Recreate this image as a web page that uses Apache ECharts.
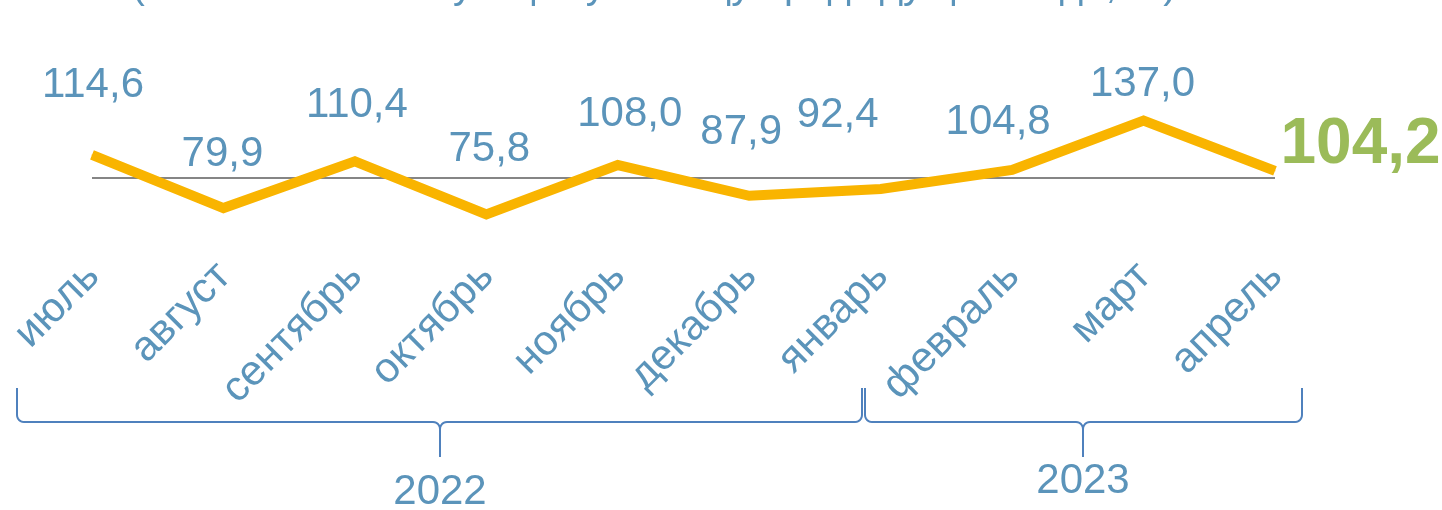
<!DOCTYPE html>
<html>
<head>
<meta charset="utf-8">
<script src="https://cdn.jsdelivr.net/npm/echarts@6/dist/echarts.min.js"></script>
<style>
  html, body { margin: 0; padding: 0; background: #fff; }
  #main { width: 1442px; height: 510px; }
</style>
</head>
<body>
<div id="main"></div>
<script>
// данные
var months = ['июль', 'август', 'сентябрь', 'октябрь', 'ноябрь', 'декабрь', 'январь', 'февраль', 'март', 'апрель'];
var values = [114.6, 79.9, 110.4, 75.8, 108.0, 87.9, 92.4, 104.8, 137.0, 104.2];
var years = ['2022', '2023'];
var titleText = '(в % к соответствующему месяцу предыдущего года, %)';

// сдвиги подписей значений (оформление)
var labelShift = [[1, -48], [-1, -32], [2, -34], [3, -43], [12, -29], [-8, -42], [-43, -52], [-14, -26], [-1, -15]];

var blue = '#5b94ba';
var font = 'Liberation Sans, Arial, sans-serif';

function fmt(v) {
    return v.toFixed(1).replace('.', ',');
}

// фигурная скобка снизу
function brace(x1, x2, xm, yTop, yH, yTip) {
    var r = 7, pts = [[x1, yTop]];
    function arc(cx, cy, a0, a1) {
        for (var i = 0; i <= 6; i++) {
            var a = (a0 + (a1 - a0) * i / 6) * Math.PI / 180;
            pts.push([cx + r * Math.cos(a), cy + r * Math.sin(a)]);
        }
    }
    arc(x1 + r, yH - r, 180, 90);
    arc(xm - r, yH + r, -90, 0);
    pts.push([xm, yTip]);
    arc(xm + r, yH + r, 180, 270);
    arc(x2 - r, yH - r, 90, 0);
    pts.push([x2, yTop]);
    return {
        type: 'polyline',
        shape: { points: pts },
        style: { stroke: '#4f81bd', lineWidth: 2, fill: null }
    };
}

var chart = echarts.init(document.getElementById('main'));

var seriesData = values.map(function (v, i) {
    var item = { value: v };
    if (i < values.length - 1) {
        item.label = { offset: labelShift[i] };
    } else {
        item.label = {
            position: 'right',
            distance: 5,
            offset: [0, -26],
            fontSize: 64,
            fontWeight: 'bold',
            color: '#9bbb59'
        };
    }
    return item;
});

var option = {
    animation: false,
    grid: [
        { left: 92, right: 167, top: 100.8, bottom: 256.2 },
        { left: 93, right: 166, top: 100.8, bottom: 256.2 }
    ],
    xAxis: [{
        type: 'category',
        data: months,
        boundaryGap: false,
        axisLine: { show: false },
        axisTick: { show: false },
        axisLabel: { show: false }
    }, {
        type: 'category',
        gridIndex: 1,
        data: months,
        boundaryGap: false,
        axisLine: { show: false },
        axisTick: { show: false },
        axisLabel: {
            interval: 0,
            rotate: 45,
            margin: 16,
            color: blue,
            fontSize: 42,
            fontFamily: font
        }
    }],
    yAxis: [{
        type: 'value',
        min: 50,
        max: 150,
        interval: 50,
        axisLine: { show: false },
        axisTick: { show: false },
        axisLabel: { show: false },
        splitLine: {
            show: true,
            lineStyle: { color: ['rgba(0,0,0,0)', '#858585', 'rgba(0,0,0,0)'], width: 2 }
        }
    }, {
        type: 'value',
        gridIndex: 1,
        show: false
    }],
    series: [{
        type: 'line',
        data: seriesData,
        symbol: 'circle',
        symbolSize: 1,
        showSymbol: true,
        itemStyle: { color: '#f9b400' },
        lineStyle: { color: '#f9b400', width: 10, join: 'miter', cap: 'butt' },
        label: {
            show: true,
            position: 'top',
            distance: 0,
            color: blue,
            fontSize: 42,
            fontFamily: font,
            formatter: function (p) { return fmt(p.value); }
        }
    }],
    graphic: [
        {
            type: 'text',
            style: { text: titleText, x: 654, y: -13, align: 'center', verticalAlign: 'middle', fill: blue, font: '40px ' + font }
        },
        brace(17, 862, 440, 388, 422, 457),
        brace(865, 1302, 1083, 388, 422, 457),
        {
            type: 'text',
            style: { text: years[0], x: 440, y: 492, align: 'center', verticalAlign: 'middle', fill: blue, font: '42px ' + font }
        },
        {
            type: 'text',
            style: { text: years[1], x: 1083, y: 481, align: 'center', verticalAlign: 'middle', fill: blue, font: '42px ' + font }
        }
    ]
};

chart.setOption(option);
</script>
</body>
</html>
